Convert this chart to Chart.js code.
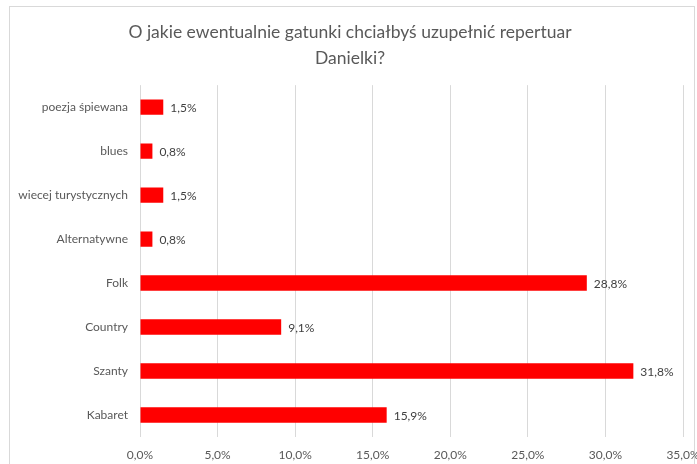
<!DOCTYPE html>
<html>
<head>
<meta charset="utf-8">
<script src="https://cdn.jsdelivr.net/npm/chart.js@4"></script>
<style>
  body { margin: 0; background: #fff; }
  .frame { position: absolute; left: 9px; top: 6px; width: 686px; height: 470px; border: 1px solid #d9d9d9; box-sizing: border-box; }
  .wrap { position: absolute; left: 0; top: 0; width: 697px; height: 464px; }
</style>
</head>
<body>
<div class="frame"></div>
<div class="wrap"><canvas id="myChart" width="697" height="464"></canvas></div>
<script>
const categories = ['poezja śpiewana', 'blues', 'wiecej turystycznych', 'Alternatywne', 'Folk', 'Country', 'Szanty', 'Kabaret'];
const values = [1.5, 0.8, 1.5, 0.8, 28.8, 9.1, 31.8, 15.9];
const xTicks = [0, 5, 10, 15, 20, 25, 30, 35];
const titleLines = ['O jakie ewentualnie gatunki chciałbyś uzupełnić repertuar', 'Danielki?'];

const fmt = (v) => v.toFixed(1).replace('.', ',') + '%';

// labels at the end of each bar
const barLabels = {
  id: 'barLabels',
  afterDatasetsDraw(chart) {
    const ctx = chart.ctx;
    const meta = chart.getDatasetMeta(0);
    ctx.save();
    ctx.font = '12px Lato, "Open Sans", sans-serif';
    ctx.fillStyle = '#404040';
    ctx.textBaseline = 'middle';
    ctx.textAlign = 'left';
    meta.data.forEach((bar, i) => {
      ctx.fillText(fmt(values[i]), bar.x + 7, bar.y + 1);
    });
    ctx.restore();
  },
};

const config = {
  type: 'bar',
  data: {
    labels: categories,
    datasets: [
      {
        data: values,
        backgroundColor: '#ff0000',
        borderWidth: 0,
        barPercentage: 0.35,
        categoryPercentage: 1,
      },
    ],
  },
  options: {
    indexAxis: 'y',
    responsive: false,
    animation: false,
    layout: { padding: { left: 17, right: 14, top: 0, bottom: 0 } },
    plugins: {
      legend: { display: false },
      tooltip: { enabled: false },
      title: {
        display: true,
        text: titleLines,
        color: '#595959',
        font: { family: 'Lato, "Open Sans", sans-serif', size: 17.5, weight: 'normal', lineHeight: 1.49 },
        padding: { top: 19, bottom: 14 },
      },
    },
    scales: {
      x: {
        min: 0,
        max: 35,
        afterBuildTicks: (scale) => {
          scale.ticks = xTicks.map((v) => ({ value: v }));
        },
        afterFit: (scale) => {
          scale.height = 27;
          scale.paddingLeft = 0;
          scale.paddingRight = 0;
        },
        grid: { color: '#d9d9d9', drawTicks: false },
        border: { display: false },
        ticks: {
          color: '#595959',
          padding: 11,
          font: { family: 'Lato, "Open Sans", sans-serif', size: 12 },
          callback: (v) => fmt(v),
        },
      },
      y: {
        afterFit: (scale) => {
          scale.width = 123;
        },
        grid: { display: false, drawTicks: false },
        border: { display: false },
        ticks: {
          color: '#595959',
          padding: 12,
          font: { family: 'Lato, "Open Sans", sans-serif', size: 12 },
        },
      },
    },
  },
  plugins: [barLabels],
};

const myChart = new Chart(document.getElementById('myChart'), config);
</script>
</body>
</html>
